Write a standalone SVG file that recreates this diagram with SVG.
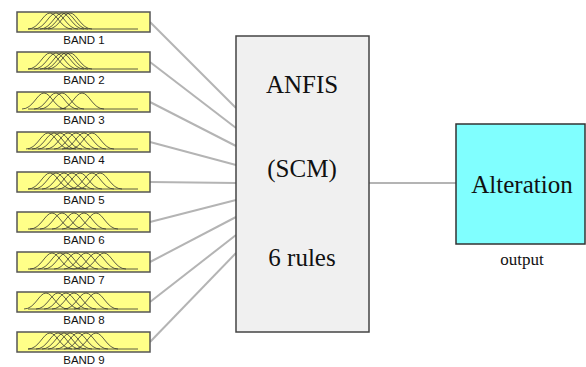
<svg xmlns="http://www.w3.org/2000/svg" width="586" height="367" viewBox="0 0 586 367">
<style>
.band{fill:#ffff88;stroke:#555;stroke-width:1.5}
.mf{fill:none;stroke:#333;stroke-width:0.8}
.lbl{font-family:"Liberation Sans",Arial,sans-serif;font-size:11.5px;fill:#111;text-anchor:middle}
.conn{stroke:#b4b4b4;stroke-width:2;fill:none}
.big{font-family:"Liberation Serif","Times New Roman",serif;font-size:25px;fill:#111;text-anchor:middle}
.sm{font-family:"Liberation Serif","Times New Roman",serif;font-size:17px;fill:#111;text-anchor:middle}
</style>
<defs>
<path id="bell" d="M-22,0 C-11,0 -7,-16 0,-16 C7,-16 11,0 22,0"/>
<g id="mf1" class="mf"><path d="M28,29 H138"/><use href="#bell" transform="translate(50,29)"/><use href="#bell" transform="translate(56,29)"/><use href="#bell" transform="translate(62,29)"/><use href="#bell" transform="translate(66,29)"/><use href="#bell" transform="translate(70,29)"/></g>
<g id="mf3" class="mf"><path d="M28,29 H138"/><use href="#bell" transform="translate(44,29)"/><use href="#bell" transform="translate(56,29)"/><use href="#bell" transform="translate(62,29)"/><use href="#bell" transform="translate(82,29)"/></g>
<g id="mf4" class="mf"><path d="M28,29 H138"/><use href="#bell" transform="translate(48,29)"/><use href="#bell" transform="translate(54,29)"/><use href="#bell" transform="translate(60,29)"/><use href="#bell" transform="translate(68,29)"/><use href="#bell" transform="translate(76,29)"/><use href="#bell" transform="translate(84,29)"/><use href="#bell" transform="translate(92,29)"/></g>
<g id="mf5" class="mf"><path d="M28,29 H138"/><use href="#bell" transform="translate(50,29)"/><use href="#bell" transform="translate(56,29)"/><use href="#bell" transform="translate(64,29)"/><use href="#bell" transform="translate(72,29)"/><use href="#bell" transform="translate(80,29)"/><use href="#bell" transform="translate(92,29)"/><use href="#bell" transform="translate(100,29)"/></g>
<g id="mf6" class="mf"><path d="M28,29 H138"/><use href="#bell" transform="translate(52,29)"/><use href="#bell" transform="translate(62,29)"/><use href="#bell" transform="translate(74,29)"/><use href="#bell" transform="translate(84,29)"/><use href="#bell" transform="translate(96,29)"/></g>
<g id="mf7" class="mf"><path d="M28,29 H138"/><use href="#bell" transform="translate(52,29)"/><use href="#bell" transform="translate(60,29)"/><use href="#bell" transform="translate(66,29)"/><use href="#bell" transform="translate(76,29)"/><use href="#bell" transform="translate(86,29)"/><use href="#bell" transform="translate(96,29)"/><use href="#bell" transform="translate(104,29)"/></g>
<g id="mf8" class="mf"><path d="M28,29 H138"/><use href="#bell" transform="translate(46,29)"/><use href="#bell" transform="translate(58,29)"/><use href="#bell" transform="translate(66,29)"/><use href="#bell" transform="translate(74,29)"/><use href="#bell" transform="translate(86,29)"/><use href="#bell" transform="translate(96,29)"/></g>
<g id="mf9" class="mf"><path d="M28,29 H138"/><use href="#bell" transform="translate(50,29)"/><use href="#bell" transform="translate(58,29)"/><use href="#bell" transform="translate(64,29)"/><use href="#bell" transform="translate(70,29)"/><use href="#bell" transform="translate(78,29)"/><use href="#bell" transform="translate(86,29)"/><use href="#bell" transform="translate(96,29)"/></g>
</defs>
<rect width="586" height="367" fill="#fff"/>
<g id="connectors">
<line class="conn" x1="150" y1="22" x2="236" y2="108"/>
<line class="conn" x1="150" y1="62" x2="236" y2="128"/>
<line class="conn" x1="150" y1="102" x2="236" y2="146"/>
<line class="conn" x1="150" y1="142" x2="236" y2="165"/>
<line class="conn" x1="150" y1="182" x2="236" y2="183"/>
<line class="conn" x1="150" y1="222" x2="236" y2="200"/>
<line class="conn" x1="150" y1="262" x2="236" y2="217"/>
<line class="conn" x1="150" y1="302" x2="236" y2="235"/>
<line class="conn" x1="150" y1="342" x2="236" y2="253"/>
<line class="conn" x1="369" y1="183" x2="456" y2="183"/>
</g>
<g id="band1"><rect class="band" x="17" y="12" width="133" height="20"/><use href="#mf1" transform="translate(0,0)"/><text class="lbl" x="84" y="44">BAND 1</text></g>
<g id="band2"><rect class="band" x="17" y="52" width="133" height="20"/><use href="#mf1" transform="translate(0,40)"/><text class="lbl" x="84" y="84">BAND 2</text></g>
<g id="band3"><rect class="band" x="17" y="92" width="133" height="20"/><use href="#mf3" transform="translate(0,80)"/><text class="lbl" x="84" y="124">BAND 3</text></g>
<g id="band4"><rect class="band" x="17" y="132" width="133" height="20"/><use href="#mf4" transform="translate(0,120)"/><text class="lbl" x="84" y="164">BAND 4</text></g>
<g id="band5"><rect class="band" x="17" y="172" width="133" height="20"/><use href="#mf5" transform="translate(0,160)"/><text class="lbl" x="84" y="204">BAND 5</text></g>
<g id="band6"><rect class="band" x="17" y="212" width="133" height="20"/><use href="#mf6" transform="translate(0,200)"/><text class="lbl" x="84" y="244">BAND 6</text></g>
<g id="band7"><rect class="band" x="17" y="252" width="133" height="20"/><use href="#mf7" transform="translate(0,240)"/><text class="lbl" x="84" y="284">BAND 7</text></g>
<g id="band8"><rect class="band" x="17" y="292" width="133" height="20"/><use href="#mf8" transform="translate(0,280)"/><text class="lbl" x="84" y="324">BAND 8</text></g>
<g id="band9"><rect class="band" x="17" y="332" width="133" height="20"/><use href="#mf9" transform="translate(0,320)"/><text class="lbl" x="84" y="364">BAND 9</text></g>
<g id="anfis">
<rect x="236" y="36" width="133" height="296" fill="#f0f0f0" stroke="#444" stroke-width="1.5"/>
<text class="big" x="302" y="93">ANFIS</text>
<text class="big" x="302" y="177">(SCM)</text>
<text class="big" x="302" y="266">6 rules</text>
</g>
<g id="alteration">
<rect x="456" y="124" width="129" height="120" fill="#80ffff" stroke="#333" stroke-width="1.5"/>
<text class="big" x="522" y="193">Alteration</text>
<text class="sm" x="522" y="265">output</text>
</g>
</svg>
